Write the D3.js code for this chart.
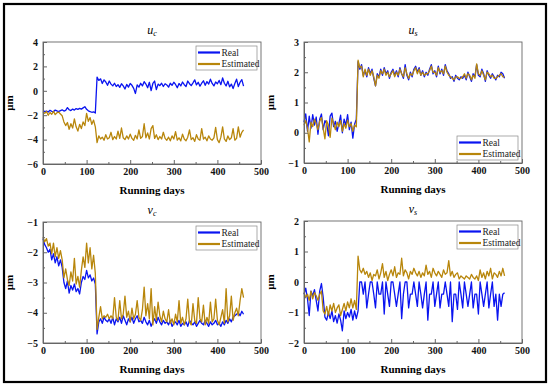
<!DOCTYPE html>
<html>
<head>
<meta charset="utf-8">
<script src="https://cdn.jsdelivr.net/npm/d3@7"></script>
<style>
  html, body { margin: 0; padding: 0; background: #fff; }
</style>
</head>
<body>
<div id="chart"></div>
<script>
// días de operación (un punto cada 4 días)
const days = d3.range(0, 461, 4);

// u_c
const ucReal = [
  -1.62, -1.70, -1.66, -1.74, -1.60, -1.68, -1.72, -1.58, -1.65, -1.70,
  -1.62, -1.56, -1.66, -1.60, -1.38, -1.55, -1.62, -1.50, -1.58, -1.46,
  -1.52, -1.44, -1.50, -1.40, -1.30, -1.52, -1.64, -1.70, -1.76, -1.72,
  -1.82,
  1.12, 0.85, 0.98, 0.60, 0.90, 0.72, 0.45, 0.80, 0.55,
  0.40, 0.62, 0.35, 0.50, 0.28, 0.58, 0.40, 0.15, 0.52, 0.30,
  0.60, 0.45, 0.20, -0.22, 0.48, 0.30, 0.62, 0.40, 0.75, 0.55,
  0.25, 0.70, 0.02, 0.60, 0.80, 0.10, 0.55, 0.42, 0.62, 0.35,
  0.58, 0.48, 0.30, 0.62, 0.45, 0.70, 0.52, 0.25, 0.60, 0.40,
  0.72, 0.50, 0.35, 0.80, 0.58, 0.42, 0.65, 0.90, 0.48, 0.70,
  0.38, 0.62, 0.82, 0.45, 0.75, 0.55, 0.95, 0.60, 0.40, 0.72,
  0.58, 0.85, 0.50, 1.05, 0.62, 0.40, 0.78, 0.32, 0.55, 0.18,
  0.60, 0.95, 0.35, 0.70, 0.92, 0.38
];
const ucEst = [
  -1.72, -1.85, -1.70, -2.00, -1.78, -1.92, -1.68, -1.95, -1.80, -1.75,
  -1.90, -2.05, -2.55, -2.85, -2.60, -3.15, -2.70, -3.05, -2.30, -2.95,
  -3.30, -2.75, -3.10, -2.55, -2.85, -1.85, -2.50, -2.20, -2.75, -2.40,
  -2.95,
  -4.25, -3.70, -3.95, -3.80, -4.05, -3.60, -3.95, -3.85, -3.40,
  -4.00, -3.75, -3.95, -3.30, -3.90, -3.05, -3.85, -4.00, -3.70, -3.95,
  -3.55, -3.90, -4.05, -3.65, -3.95, -3.20, -3.90, -3.75, -2.70, -3.85,
  -3.45, -3.95, -3.10, -2.85, -3.90, -3.60, -4.00, -3.75, -3.95, -3.40,
  -3.90, -4.05, -3.80, -4.10, -3.70, -3.95, -3.35, -4.05, -3.85, -4.10,
  -3.55, -3.95, -4.10, -3.80, -3.20, -4.00, -3.85, -4.15, -3.60, -3.95,
  -4.05, -3.10, -3.95, -3.80, -4.10, -3.70, -3.95, -4.05, -3.85, -3.00,
  -4.00, -4.25, -3.80, -2.95, -3.95, -4.15, -3.70, -4.00, -3.85, -3.10,
  -4.05, -3.90, -2.95, -3.80, -3.40, -3.20
];

// u_s
const usReal = [
  0.35, 0.62, 0.05, 0.55, 0.15, 0.60, 0.25, 0.52, -0.05, 0.45,
  0.62, 0.10, 0.40, 0.30, -0.10, 0.55, 0.65, 0.20, 0.38, 0.05,
  0.30, 0.58, 0.00, 0.45, 0.25, 0.60, 0.10, 0.35, -0.18, 0.28,
  0.45,
  2.35, 2.10, 2.25, 1.90, 2.05, 1.85, 2.15, 1.95, 2.10,
  1.80, 1.55, 1.95, 1.85, 2.10, 1.90, 2.15, 1.95, 2.05, 1.80,
  2.00, 2.10, 1.90, 2.05, 1.85, 2.15, 1.95, 1.80, 2.25, 1.90,
  1.75, 2.00, 1.85, 2.10, 2.20, 2.00, 2.15, 1.90, 2.05, 1.85,
  2.00, 1.90, 2.10, 2.25, 1.95, 2.05, 1.85, 2.20, 1.95, 2.10,
  1.90, 2.25, 2.05, 1.95, 1.80, 1.85, 1.70, 1.90, 1.80, 1.75,
  1.85, 1.80, 1.90, 1.75, 2.00, 1.85, 1.70, 1.95, 1.85, 2.25,
  1.90, 1.85, 2.10, 1.95, 1.70, 2.05, 1.90, 1.80, 1.95, 1.85,
  1.75, 1.90, 1.85, 2.00, 1.95, 1.80
];
const usEst = [
  0.25, 0.40, 0.15, -0.30, 0.35, 0.20, 0.45, 0.30, 0.10, 0.38,
  0.50, 0.15, -0.20, 0.40, 0.25, -0.15, 0.48, 0.30, 0.10, 0.35,
  0.20, 0.40, 0.05, 0.30, 0.15, 0.42, 0.20, 0.30, 0.05, 0.25,
  0.20,
  2.40, 2.15, 2.20, 1.85, 2.10, 1.90, 2.10, 1.90, 2.05,
  1.85, 1.55, 1.90, 1.80, 2.05, 1.95, 2.10, 1.90, 2.00, 1.85,
  1.95, 2.05, 1.85, 2.00, 1.90, 2.10, 1.95, 1.85, 2.15, 1.95,
  1.80, 1.95, 1.90, 2.05, 2.15, 1.95, 2.10, 1.90, 2.00, 1.90,
  1.95, 1.95, 2.05, 2.20, 2.00, 2.00, 1.90, 2.15, 2.00, 2.05,
  1.95, 2.20, 2.00, 1.90, 1.85, 1.80, 1.75, 1.85, 1.85, 1.80,
  1.80, 1.85, 1.95, 1.80, 1.95, 1.90, 1.75, 1.90, 1.80, 2.28,
  1.95, 1.90, 2.05, 1.90, 1.75, 2.00, 1.95, 1.85, 1.90, 1.80,
  1.80, 1.85, 1.90, 1.95, 1.85, 1.85
];

// v_c
const vcReal = [
  -1.55, -1.75, -1.85, -2.00, -1.90, -2.25, -2.05, -2.35, -2.15, -2.45,
  -2.25, -2.50, -3.00, -3.20, -2.95, -3.35, -3.10, -3.25, -3.05, -3.30,
  -3.20, -3.38, -3.00, -2.80, -2.90, -2.60, -2.85, -2.75, -2.95, -2.85,
  -3.05,
  -4.70, -4.30, -4.20, -4.35, -4.15, -4.25, -4.30, -4.20, -4.35,
  -4.15, -4.40, -4.20, -4.30, -4.15, -4.35, -4.10, -4.25, -4.40, -4.20,
  -4.30, -4.15, -4.35, -4.20, -4.10, -4.30, -4.25, -4.35, -4.15, -4.30,
  -4.40, -4.25, -4.45, -4.30, -4.20, -4.35, -4.15, -4.30, -4.40, -4.25,
  -4.35, -4.30, -4.40, -4.25, -4.45, -4.35, -4.30, -4.40, -4.25, -4.45,
  -4.35, -4.40, -4.30, -4.45, -4.25, -4.35, -4.40, -4.30, -4.45, -4.35,
  -4.25, -4.35, -4.40, -4.25, -4.35, -4.45, -4.30, -4.40, -4.35, -4.25,
  -4.40, -4.35, -4.45, -4.30, -4.40, -4.25, -4.35, -4.20, -4.30, -4.15,
  -4.10, -4.05, -4.00, -4.10, -3.95, -4.05
];
const vcEst = [
  -1.50, -1.65, -1.55, -1.80, -1.70, -2.05, -1.70, -2.15, -1.85, -2.20,
  -1.95, -2.25, -2.85, -2.55, -2.90, -3.10, -2.65, -2.95, -2.20, -3.05,
  -2.80, -3.15, -2.60, -2.15, -2.50, -1.70, -2.35, -1.85, -2.55, -2.10,
  -2.70,
  -4.55, -4.15, -3.80, -4.20, -4.10, -4.15, -4.05, -4.20, -4.10,
  -4.20, -3.50, -4.15, -4.25, -3.60, -4.20, -4.05, -3.45, -4.15, -3.95,
  -4.30, -3.85, -4.20, -4.05, -3.60, -4.15, -4.25, -3.90, -3.15, -4.10,
  -3.70, -4.20, -3.20, -4.40, -3.80, -4.25, -3.65, -4.10, -4.30, -3.95,
  -4.20, -4.30, -3.90, -4.35, -4.20, -4.40, -4.05, -4.30, -3.60, -4.35,
  -4.15, -4.40, -4.20, -3.55, -4.30, -4.40, -3.70, -4.25, -4.35, -3.50,
  -4.20, -4.30, -3.75, -4.40, -4.15, -4.35, -3.65, -4.30, -4.20, -3.55,
  -4.25, -4.40, -4.15, -3.90, -4.35, -3.20, -4.30, -4.10, -3.45, -4.25,
  -4.00, -3.85, -4.10, -3.60, -3.20, -3.50
];

// v_s
const vsReal = [
  -0.40, -0.20, -0.55, -1.10, -0.30, -0.45, -0.25, -0.60, -0.95, -0.30,
  -0.05, -0.50, -1.15, -1.25, -1.00, -1.20, -0.95, -1.30, -1.10, -1.35,
  -1.05, -1.25, -1.60, -0.95, -1.20, -1.00, -1.15, -0.90, -1.25, -0.95,
  -1.20,
  -0.95, 0.00, 0.00, -0.40, 0.00, -0.85, -0.40, 0.00, 0.00,
  -0.40, -0.85, 0.00, -0.40, -0.40, 0.00, -1.05, 0.00, -0.40, -0.80,
  0.00, 0.00, -0.40, -0.80, -0.40, 0.00, -1.20, -0.40, 0.00, 0.00,
  -0.85, -0.40, -0.40, 0.00, -0.40, -0.80, 0.00, -0.40, -0.85, -0.40,
  0.00, -1.25, -0.40, -0.40, 0.00, -0.80, -0.40, 0.00, -0.85, -0.40,
  -0.40, 0.00, -0.40, -0.80, 0.00, -1.30, -0.40, -0.40, -0.90, 0.00,
  -0.40, -0.85, 0.00, -0.40, -0.80, -0.40, 0.00, -0.85, -0.40, -0.40,
  -1.05, 0.00, -0.40, -0.80, -0.40, 0.00, -0.85, -0.40, 0.00, -0.80,
  -0.40, -1.25, -0.40, -0.80, -0.40, -0.35
];
const vsEst = [
  -0.35, -0.50, -0.40, -0.60, -0.30, -0.55, -0.35, -0.45, -0.60, -0.40,
  -0.30, -0.95, -1.05, -0.80, -1.10, -0.75, -0.95, -0.70, -1.00, -0.85,
  -0.75, -1.10, -0.90, -0.70, -0.95, -0.65, -0.85, -0.55, -0.85, -0.60,
  -0.90,
  0.85, 0.40, 0.30, 0.45, 0.25, 0.35, 0.15, 0.30, 0.05,
  0.25, 0.20, 0.40, 0.10, 0.30, 0.60, 0.15, 0.35, 0.05, 0.25,
  0.40, 0.20, 0.50, 0.15, 0.30, 0.25, 0.78, 0.20, 0.40, 0.30,
  0.10, 0.35, 0.25, 0.45, 0.30, 0.20, 0.35, 0.15, 0.30, 0.20,
  0.55, 0.25, 0.35, 0.15, 0.45, 0.30, 0.20, 0.35, 0.25, 0.15,
  0.40, 0.25, 0.30, 0.70, 0.20, 0.35, 0.15, 0.25, 0.30, 0.10,
  0.20, 0.15, 0.10, 0.20, 0.15, 0.10, 0.25, 0.15, 0.10, 0.20,
  0.05, 0.40, 0.15, 0.30, 0.10, 0.35, 0.20, 0.45, 0.10, 0.30,
  0.25, 0.15, 0.35, 0.20, 0.45, 0.20
];

const xTicks = [0, 100, 200, 300, 400, 500];
const xMinor = [50, 150, 250, 350, 450];
const seriesNames = ["Real", "Estimated"];
const COLORS = { Real: "#0a14f0", Estimated: "#b8860b" };
const FONT = "'Liberation Serif', 'Times New Roman', serif";

// paneles: caja del gráfico + dominio y + posición de leyenda
const panels = [
  { sym: "u", sub: "c", real: ucReal, est: ucEst, yDom: [-6, 4], yStep: 2,
    box: { x: 43, y: 42, w: 218, h: 122 }, legend: "top" },
  { sym: "u", sub: "s", real: usReal, est: usEst, yDom: [-1, 3], yStep: 1,
    box: { x: 304, y: 42, w: 218, h: 121 }, legend: "bottom" },
  { sym: "v", sub: "c", real: vcReal, est: vcEst, yDom: [-5, -1], yStep: 1,
    box: { x: 43, y: 222, w: 218, h: 121 }, legend: "top" },
  { sym: "v", sub: "s", real: vsReal, est: vsEst, yDom: [-2, 2], yStep: 1,
    box: { x: 304, y: 221, w: 218, h: 122 }, legend: "top" }
];

const W = 550, H = 387;
const svg = d3.select("#chart").append("svg")
  .attr("width", W).attr("height", H)
  .attr("font-family", FONT);

svg.append("rect").attr("width", W).attr("height", H).attr("fill", "#fff");
// marco exterior
svg.append("rect")
  .attr("x", 4).attr("y", 4).attr("width", 542).attr("height", 378)
  .attr("fill", "none").attr("stroke", "#000").attr("stroke-width", 2.2);

panels.forEach(p => {
  const b = p.box;
  const g = svg.append("g").attr("transform", `translate(${b.x},${b.y})`);

  const x = d3.scaleLinear().domain([0, 500]).range([0, b.w]);
  const y = d3.scaleLinear().domain(p.yDom).range([b.h, 0]);

  const yMajor = d3.range(p.yDom[0], p.yDom[1] + 1e-9, p.yStep);
  const yMinor = d3.range(p.yDom[0], p.yDom[1] + 1e-9, p.yStep / 2);

  // líneas
  const line = d3.line().x((d, i) => x(days[i])).y(d => y(d));
  g.append("path").datum(p.real)
    .attr("d", line).attr("fill", "none")
    .attr("stroke", COLORS.Real).attr("stroke-width", 1.3)
    .attr("stroke-linejoin", "round");
  g.append("path").datum(p.est)
    .attr("d", line).attr("fill", "none")
    .attr("stroke", COLORS.Estimated).attr("stroke-width", 1.3)
    .attr("stroke-linejoin", "round");

  // marco del gráfico
  g.append("rect").attr("width", b.w).attr("height", b.h)
    .attr("fill", "none").attr("stroke", "#666").attr("stroke-width", 0.9);

  // ejes (ticks hacia dentro)
  const ax = g.append("g").attr("transform", `translate(0,${b.h})`)
    .call(d3.axisBottom(x).tickValues(xTicks).tickSizeInner(-4).tickSizeOuter(0).tickPadding(4));
  g.append("g").attr("transform", `translate(0,${b.h})`)
    .call(d3.axisBottom(x).tickValues(xMinor).tickSize(-2).tickFormat(""))
    .call(s => s.select(".domain").remove());
  const ay = g.append("g")
    .call(d3.axisLeft(y).tickValues(yMajor).tickSizeInner(-4).tickSizeOuter(0).tickPadding(5).tickFormat(d3.format("d")));
  g.append("g")
    .call(d3.axisLeft(y).tickValues(yMinor.filter(v => !yMajor.includes(v))).tickSize(-2).tickFormat(""))
    .call(s => s.select(".domain").remove());

  g.selectAll("g").attr("font-family", FONT);
  g.selectAll(".domain").attr("stroke", "#666");
  g.selectAll(".tick line").attr("stroke", "#666");
  [ax, ay].forEach(a => a.selectAll("text")
    .attr("font-size", 10).attr("font-weight", "bold").attr("fill", "#111"));

  // título
  const t = g.append("text")
    .attr("x", b.w / 2).attr("y", -8)
    .attr("text-anchor", "middle").attr("font-size", 12)
    .attr("font-style", "italic");
  t.append("tspan").text(p.sym);
  t.append("tspan").attr("font-size", 8).attr("dy", 2).text(p.sub);

  // etiquetas de ejes
  g.append("text")
    .attr("x", b.w / 2).attr("y", b.h + 30)
    .attr("text-anchor", "middle").attr("font-size", 11).attr("font-weight", "bold")
    .text("Running days");
  g.append("text")
    .attr("transform", `translate(${-30},${b.h / 2}) rotate(-90)`)
    .attr("text-anchor", "middle").attr("font-size", 11).attr("font-weight", "bold")
    .text("μm");

  // leyenda
  const lw = 61, lh = 24;
  const lx = b.w - lw - 4;
  const ly = p.legend === "top" ? 4 : b.h - lh - 3;
  const lg = g.append("g").attr("transform", `translate(${lx},${ly})`);
  lg.append("rect").attr("width", lw).attr("height", lh)
    .attr("fill", "#fff").attr("stroke", "#888").attr("stroke-width", 0.7);
  seriesNames.forEach((name, i) => {
    const yy = 6.5 + i * 11.5;
    lg.append("line").attr("x1", 2).attr("x2", 24).attr("y1", yy).attr("y2", yy)
      .attr("stroke", COLORS[name]).attr("stroke-width", 2.2);
    lg.append("text").attr("x", 25.5).attr("y", yy + 3.2)
      .attr("font-size", 9.5).attr("fill", "#222").text(name);
  });
});
</script>
</body>
</html>
